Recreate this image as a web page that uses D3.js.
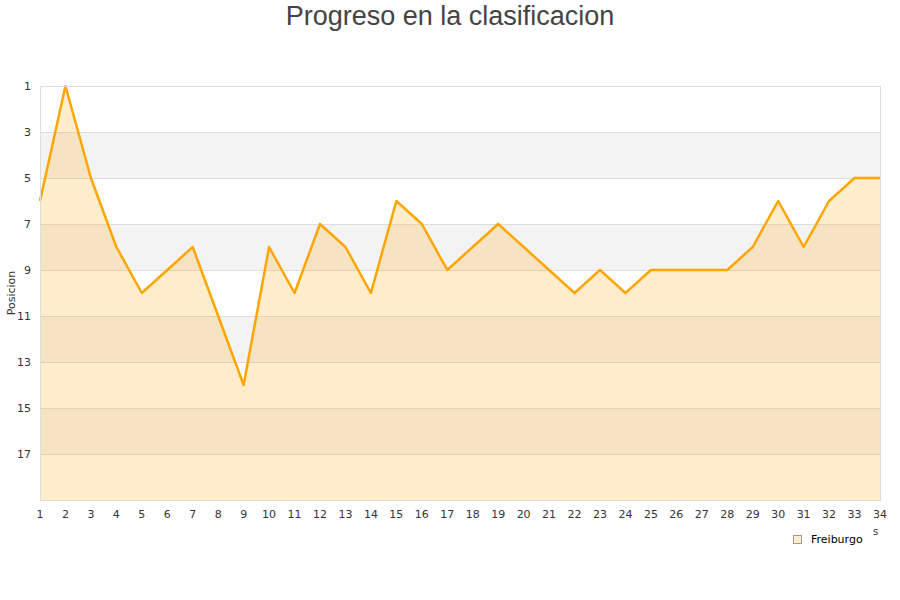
<!DOCTYPE html>
<html><head><meta charset="utf-8">
<script src="https://cdn.jsdelivr.net/npm/d3@7"></script>
<style>body{margin:0;background:#fff}</style>
</head><body>
<svg id="c" width="900" height="600"></svg>
<script>
const rounds = d3.range(1, 35);
const positions = [6,1,5,8,10,9,8,11,14,8,10,7,8,10,6,7,9,8,7,8,9,10,9,10,9,9,9,9,8,6,8,6,5,5];
const yTicks = [1,3,5,7,9,11,13,15,17];
const bandStarts = [3,7,11,15];
const seriesName = "Freiburgo";

const svg = d3.select("#c");
const m = {l:40, r:880, t:86, b:500};
const x = d3.scaleLinear().domain([1,34]).range([m.l, m.r]);
const y = d3.scaleLinear().domain([1,19]).range([m.t, m.b]);

svg.append("text").attr("x",450).attr("y",25).attr("text-anchor","middle")
  .attr("font-family","Liberation Sans, Arial, sans-serif").attr("font-size",27).attr("fill","#444")
  .text("Progreso en la clasificacion");

// bands
svg.selectAll("rect.band").data(bandStarts).join("rect")
  .attr("x", m.l).attr("width", m.r-m.l)
  .attr("y", d=>y(d)).attr("height", d=>y(d+2)-y(d)).attr("fill","#f3f3f3");
// grid
svg.selectAll("line.g").data(yTicks.slice(1)).join("line")
  .attr("x1",m.l).attr("x2",m.r).attr("y1",d=>y(d)+0.5).attr("y2",d=>y(d)+0.5)
  .attr("stroke","#dddddd").attr("stroke-width",1);

const pts = rounds.map((r,i)=>[r, positions[i]]);
svg.append("path").datum(pts)
  .attr("d", d3.area().x(d=>x(d[0])).y0(y(19)).y1(d=>y(d[1])))
  .attr("fill","rgba(255,165,0,0.2)");
svg.append("path").datum(pts)
  .attr("d", d3.line().x(d=>x(d[0])).y(d=>y(d[1])))
  .attr("fill","none").attr("stroke","#ffa500").attr("stroke-width",2.5).attr("stroke-linejoin","round");

svg.append("rect").attr("x",m.l+0.5).attr("y",m.t+0.5).attr("width",m.r-m.l).attr("height",m.b-m.t)
  .attr("fill","none").attr("stroke","#dddddd");

const tf = "DejaVu Sans, sans-serif";
svg.selectAll("text.yt").data(yTicks).join("text")
  .attr("x",31).attr("y",d=>y(d)+4).attr("text-anchor","end")
  .attr("font-family",tf).attr("font-size",11).attr("fill","#333").text(d=>d);
svg.selectAll("text.xt").data(rounds).join("text")
  .attr("x",d=>x(d)).attr("y",518).attr("text-anchor","middle")
  .attr("font-family",tf).attr("font-size",11).attr("fill","#333").text(d=>d);

svg.append("text").attr("transform","translate(15,293) rotate(-90)").attr("text-anchor","middle")
  .attr("font-family",tf).attr("font-size",11).attr("fill","#333").text("Posicion");
svg.append("text").attr("x",873).attr("y",535)
  .attr("font-family",tf).attr("font-size",10).attr("fill","#333").text("s");

svg.append("rect").attr("x",793.5).attr("y",535.5).attr("width",8).attr("height",8)
  .attr("fill","#ffedcc").attr("stroke","#999").attr("stroke-width",1);
svg.append("text").attr("x",811).attr("y",543)
  .attr("font-family",tf).attr("font-size",11).attr("fill","#000").text(seriesName);
</script>
</body></html>
